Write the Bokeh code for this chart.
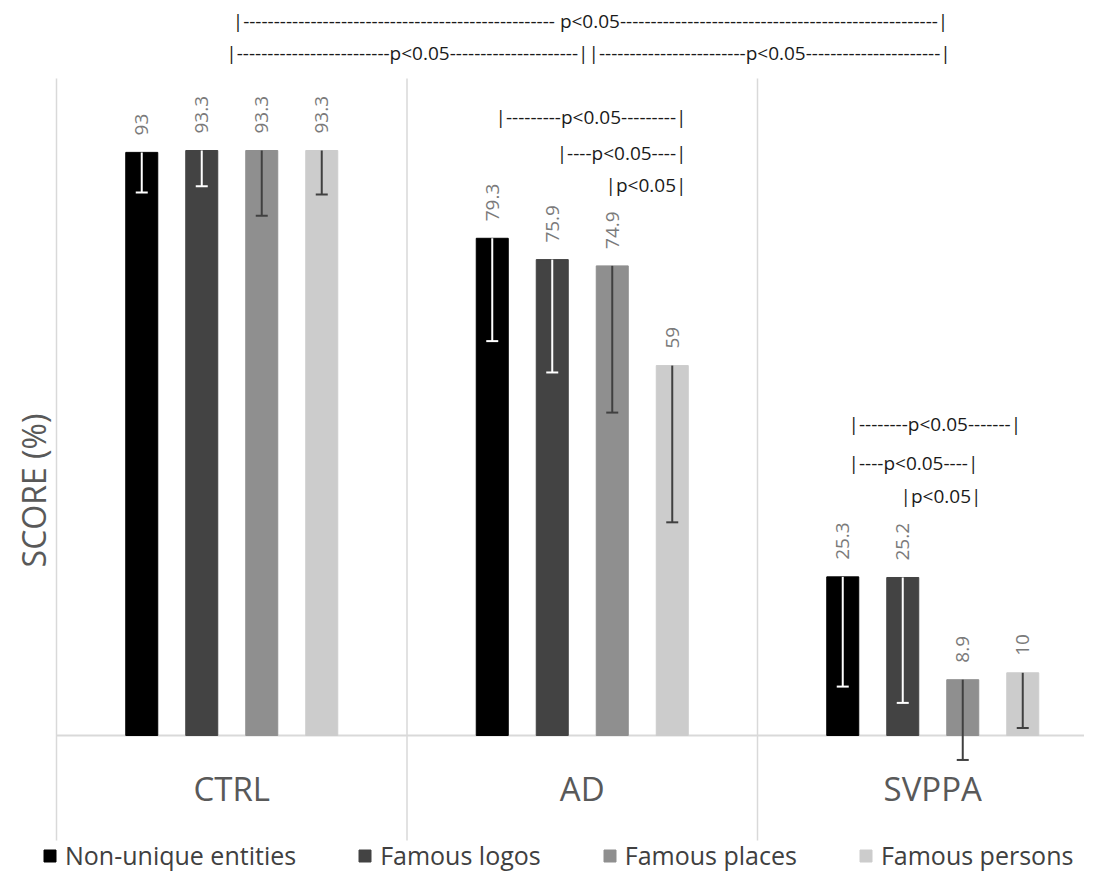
import math
from bokeh.plotting import figure
from bokeh.models import Range1d, ColumnDataSource, Legend, LegendItem
from bokeh.core.properties import value
from bokeh.embed import file_html
from bokeh.resources import INLINE

# ---------------- data ----------------
groups = ["CTRL", "AD", "SVPPA"]
series = ["Non-unique entities", "Famous logos", "Famous places", "Famous persons"]
non_unique = [93.0, 79.3, 25.3]
famous_logos = [93.3, 75.9, 25.2]
famous_places = [93.3, 74.9, 8.9]
famous_persons = [93.3, 59.0, 10.0]
err_non_unique = [6.4, 16.4, 17.5]
err_famous_logos = [5.7, 18.0, 20.0]
err_famous_places = [10.4, 23.4, 12.8]
err_famous_persons = [7.0, 25.0, 8.8]
sig_label = "p<0.05"

values = [non_unique, famous_logos, famous_places, famous_persons]
errors = [err_non_unique, err_famous_logos, err_famous_places, err_famous_persons]

# ---------------- layout / style ----------------
W, H = 1084, 876
PX_GROUP = 350.5          # pixels per category group
PX_UNIT = 6.27            # pixels per score unit
LEFT_PX = 56              # frame px of group 0 left edge
ZERO_PX = 735             # frame px of score 0
bar_colors = ["#000000", "#434343", "#8f8f8f", "#cccccc"]
whisk_colors = ["#ffffff", "#ffffff", "#404040", "#404040"]
offsets_px = [-90, -30, 30, 90]
BAR_W_PX = 32
CAP_PX = 6
FONT = "Open Sans"

p = figure(width=W, height=H, output_backend="svg", toolbar_location=None,
           x_range=Range1d(-LEFT_PX / PX_GROUP, (W - LEFT_PX) / PX_GROUP),
           y_range=Range1d(-(H - ZERO_PX) / PX_UNIT, ZERO_PX / PX_UNIT),
           min_border=0)
p.axis.visible = False
p.grid.visible = False
p.outline_line_color = None
p.background_fill_color = "white"
p.border_fill_color = "white"


def gx(px):
    return (px - LEFT_PX) / PX_GROUP


def gy(py):
    return (ZERO_PX - py) / PX_UNIT


# separators and baseline
sep_top = gy(78)
sep_bot = gy(840)
p.segment(x0=[0, 1, 2, 3], y0=[sep_bot] * 4, x1=[0, 1, 2, 3], y1=[sep_top] * 4,
          line_color="#d9d9d9", line_width=1.5)
p.segment(x0=[0], y0=[0], x1=[3], y1=[0], line_color="#d9d9d9", line_width=2)

centers = [i + 0.5 for i in range(len(groups))]
renderers = []
for k, name in enumerate(series):
    xs = [c + offsets_px[k] / PX_GROUP for c in centers]
    vals = values[k]
    errs = errors[k]
    src = ColumnDataSource(dict(
        x=xs, top=vals, low=[v - e for v, e in zip(vals, errs)],
        xl=[x - CAP_PX / PX_GROUP for x in xs], xr=[x + CAP_PX / PX_GROUP for x in xs],
        lab=[f"{v:g}" for v in vals]))
    r = p.vbar(x="x", top="top", bottom=0, width=BAR_W_PX / PX_GROUP, source=src,
               fill_color=bar_colors[k], line_color=bar_colors[k])
    renderers.append(r)
    p.segment(x0="x", y0="top", x1="x", y1="low", source=src,
              line_color=whisk_colors[k], line_width=2)
    p.segment(x0="xl", y0="low", x1="xr", y1="low", source=src,
              line_color=whisk_colors[k], line_width=2)
    p.text(x="x", y="top", text="lab", source=src, angle=math.pi / 2,
           y_offset=-17, text_align="left", text_baseline="middle",
           text_font=value(FONT), text_font_size="19px", text_color="#7a7a7a")

# category labels
p.text(x=centers, y=[gy(788)] * 3, text=groups,
       text_align="center", text_baseline="middle", text_font=value(FONT),
       text_font_size="33px", text_color="#595959")

# y axis title
p.text(x=[gx(33)], y=[gy(490)], text=["SCORE (%)"],
       angle=math.pi / 2, text_align="center", text_baseline="middle",
       text_font=value(FONT), text_font_size="32px", text_color="#595959")

# significance brackets (reference px positions -> data)
d = "-"
brackets = [
    ("|" + d * 51 + " " + sig_label + d * 52 + "|", 590, 20, "center"),
    ("|" + d * 25 + sig_label + d * 21 + "||" + d * 24 + sig_label + d * 22 + "|", 588, 52, "center"),
    ("|" + d * 9 + sig_label + d * 9 + "|", 686, 116, "right"),
    ("|" + d * 4 + sig_label + d * 4 + "|", 686, 152, "right"),
    ("|" + sig_label + "|", 686, 184, "right"),
    ("|" + d * 8 + sig_label + d * 7 + "|", 848, 423, "left"),
    ("|" + d * 4 + sig_label + d * 4 + "|", 848, 462, "left"),
    ("|" + sig_label + "|", 981, 495, "right"),
]
for txt, bx, by, al in brackets:
    p.text(x=[gx(bx)], y=[gy(by)], text=[txt], text_align=al, text_baseline="middle",
           text_font=value(FONT), text_font_size="19px", text_color="#1a1a1a")

legend = Legend(items=[LegendItem(label=s, renderers=[r]) for s, r in zip(series, renderers)],
                orientation="horizontal", location=(42, 4),
                glyph_width=15, glyph_height=15, label_standoff=8, spacing=61,
                padding=0, margin=0, border_line_color=None, background_fill_alpha=0,
                label_text_font=FONT, label_text_font_size="25px",
                label_text_color="#404040")
p.add_layout(legend)

open("out.html", "w").write(file_html(p, INLINE))
